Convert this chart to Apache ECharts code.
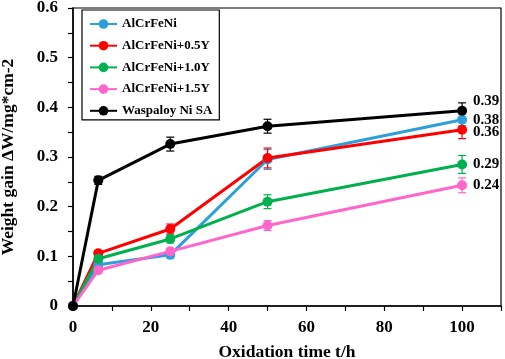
<!DOCTYPE html>
<html><head><meta charset="utf-8">
<script src="https://cdn.jsdelivr.net/npm/echarts@6/dist/echarts.min.js"></script>
<style>html,body{margin:0;padding:0;background:#fff}#c{width:505px;height:359px}</style>
</head><body><div id="c"></div>
<script>
const times = [0, 6.5, 25, 50, 100];
const seriesNames = ['AlCrFeNi', 'AlCrFeNi+0.5Y', 'AlCrFeNi+1.0Y', 'AlCrFeNi+1.5Y', 'Waspaloy Ni SA'];
const alcrfeni = [0, 0.083, 0.103, 0.295, 0.375];
const alcrfeni05 = [0, 0.106, 0.155, 0.298, 0.355];
const alcrfeni10 = [0, 0.095, 0.135, 0.21, 0.285];
const alcrfeni15 = [0, 0.072, 0.11, 0.162, 0.243];
const waspaloy = [0, 0.253, 0.326, 0.362, 0.393];
const errAlcrfeni = [0, 0.006, 0.006, 0.02, 0.012];
const err05 = [0, 0.006, 0.01, 0.02, 0.018];
const err10 = [0, 0.006, 0.008, 0.014, 0.018];
const err15 = [0, 0.006, 0.006, 0.01, 0.015];
const errWasp = [0, 0.008, 0.014, 0.014, 0.016];
const endLabels = ['0.38', '0.36', '0.29', '0.24', '0.39'];
const xTicks = [0, 20, 40, 60, 80, 100];
const yTicks = [0, 0.1, 0.2, 0.3, 0.4, 0.5, 0.6];

const colors = ['#2f9fdc', '#ff0000', '#00b04f', '#ff66cc', '#000000'];
const values = [alcrfeni, alcrfeni05, alcrfeni10, alcrfeni15, waspaloy];
const errs = [errAlcrfeni, err05, err10, err15, errWasp];
const labelOffsets = [[0, 0], [0, 2], [0, 0], [0, 0], [0, -10]];
const font = 'Liberation Serif';

const series = [];
values.forEach((vals, i) => {
  series.push({
    type: 'custom', silent: true, z: 3,
    data: vals.map((v, k) => [times[k], v - errs[i][k], v + errs[i][k]]).filter((d, k) => errs[i][k] > 0),
    encode: {x: 0, y: [1, 2]},
    renderItem: function (params, api) {
      const lo = api.coord([api.value(0), api.value(1)]);
      const hi = api.coord([api.value(0), api.value(2)]);
      const w = 4;
      const st = {stroke: colors[i], lineWidth: 1.2};
      return {type: 'group', children: [
        {type: 'line', shape: {x1: lo[0], y1: lo[1], x2: hi[0], y2: hi[1]}, style: st},
        {type: 'line', shape: {x1: lo[0] - w, y1: lo[1], x2: lo[0] + w, y2: lo[1]}, style: st},
        {type: 'line', shape: {x1: hi[0] - w, y1: hi[1], x2: hi[0] + w, y2: hi[1]}, style: st}
      ]};
    }
  });
});
values.forEach((vals, i) => {
  series.push({
    name: seriesNames[i], type: 'line', z: 4,
    symbol: 'circle', symbolSize: 10,
    lineStyle: {width: 3, color: colors[i]},
    itemStyle: {color: colors[i]},
    data: vals.map((v, k) => {
      const d = {value: [times[k], v]};
      if (k === vals.length - 1) {
        d.label = {show: true, position: 'right', distance: 6, offset: labelOffsets[i],
          formatter: endLabels[i], color: '#000', fontFamily: font, fontWeight: 'bold', fontSize: 15};
      }
      return d;
    })
  });
});
series.push({
  type: 'line', symbol: 'diamond', symbolSize: 10, itemStyle: {color: '#000'},
  data: [[0, 0]], z: 6, silent: true
});

const chart = echarts.init(document.getElementById('c'), null, {renderer: 'canvas'});
chart.setOption({
  animation: false,
  backgroundColor: '#fff',
  grid: {left: 73, top: 8, width: 428, height: 298, show: true, borderColor: '#000', borderWidth: 1.2,
    containLabel: false, outerBoundsMode: 'none'},
  legend: {
    data: seriesNames, left: 82, top: 10, orient: 'vertical',
    itemWidth: 27, itemHeight: 12, itemGap: 8.7,
    padding: [7.5, 7, 2.5, 7],
    borderColor: '#000', borderWidth: 1.2,
    textStyle: {fontFamily: font, fontWeight: 'bold', fontSize: 13, color: '#000'}
  },
  xAxis: {
    type: 'value', min: 0, max: 110, interval: 20,
    name: 'Oxidation time t/h', nameLocation: 'middle', nameGap: 37,
    nameTextStyle: {fontFamily: font, fontWeight: 'bold', fontSize: 17.5, color: '#000'},
    axisLine: {show: true, onZero: false, lineStyle: {color: '#000', width: 1.5}},
    axisTick: {show: true, inside: false, length: 5, lineStyle: {color: '#000', width: 1.2}},
    minorTick: {show: true, splitNumber: 2, length: 5, lineStyle: {color: '#000', width: 1.2}},
    splitLine: {show: false},
    axisLabel: {margin: 13, fontFamily: font, fontWeight: 'bold', fontSize: 17, color: '#000',
      formatter: v => xTicks.indexOf(v) >= 0 ? String(v) : ''}
  },
  yAxis: {
    type: 'value', min: 0, max: 0.6, interval: 0.1,
    name: 'Weight gain ΔW/mg*cm-2', nameLocation: 'middle', nameGap: 56,
    nameTextStyle: {fontFamily: font, fontWeight: 'bold', fontSize: 17.5, color: '#000'},
    axisLine: {show: true, onZero: false, lineStyle: {color: '#000', width: 1.5}},
    axisTick: {show: true, inside: false, length: 5, lineStyle: {color: '#000', width: 1.2}},
    minorTick: {show: true, splitNumber: 2, length: 5, lineStyle: {color: '#000', width: 1.2}},
    splitLine: {show: false},
    axisLabel: {margin: 15, fontFamily: font, fontWeight: 'bold', fontSize: 17, color: '#000',
      formatter: v => {
        const m = yTicks.find(t => Math.abs(t - v) < 1e-9);
        return m === undefined ? '' : (m === 0 ? '0' : m.toFixed(1));
      }}
  },
  series: series
});
</script></body></html>
